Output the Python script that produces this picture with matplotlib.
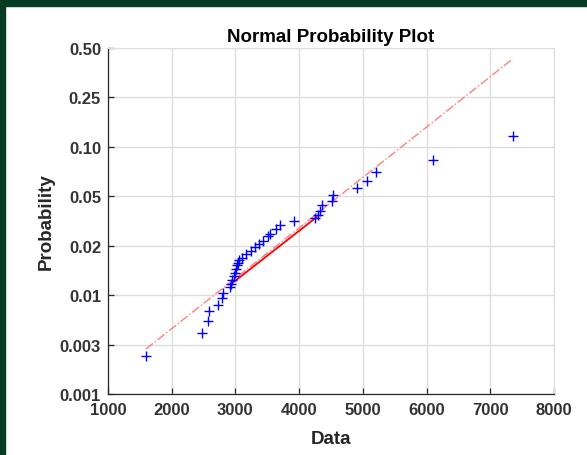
import matplotlib
matplotlib.use("Agg")
import matplotlib.pyplot as plt
from matplotlib.patches import Rectangle

plt.rcParams['font.family'] = ['Liberation Sans', 'DejaVu Sans']

# y axis: evenly spaced probability ticks (position = index)
prob_labels = ['0.001', '0.003', '0.01', '0.02', '0.05', '0.10', '0.25', '0.50']
xticks = [1000, 2000, 3000, 4000, 5000, 6000, 7000, 8000]

# data points (x value, position on probability axis in tick units)
data_x = [1596, 2470, 2575, 2585, 2722, 2785, 2800, 2915, 2925, 2950,
          2985, 3000, 3010, 3025, 3040, 3060, 3110, 3170, 3240, 3305,
          3370, 3425, 3505, 3535, 3640, 3705, 3925, 4249, 4290, 4327,
          4363, 4520, 4526, 4913, 5060, 5206, 6106, 7352]
data_u = [0.76, 1.23, 1.47, 1.67, 1.80, 1.94, 2.04, 2.16, 2.23, 2.30,
          2.38, 2.44, 2.53, 2.60, 2.66, 2.71, 2.76, 2.83, 2.90, 2.97,
          3.04, 3.10, 3.19, 3.24, 3.33, 3.42, 3.50, 3.56, 3.63, 3.70,
          3.82, 3.91, 4.02, 4.16, 4.30, 4.50, 4.74, 5.21]

# reference line: full extent (dash-dot) and fitted middle part (solid)
line_x = [1596, 7352]
line_u = [0.91, 6.78]
solid_x = [2967, 4276]
solid_u = [2.26, 3.58]

fig = plt.figure(figsize=(5.87, 4.56), dpi=100)
fig.patch.set_facecolor('white')
# dark green frame on top and left
fig.patches.append(Rectangle((0, 1 - 7 / 456), 1, 7 / 456, transform=fig.transFigure,
                             color='#083b23', zorder=0))
fig.patches.append(Rectangle((0, 0), 5 / 587, 1, transform=fig.transFigure,
                             color='#083b23', zorder=0))

ax = fig.add_axes([108 / 587, 61 / 456, 446 / 587, 346 / 456])

ax.plot(line_x, line_u, linestyle='-.', color='#ff8080', lw=1.0, zorder=2)
ax.plot(solid_x, solid_u, linestyle='-', color='#ff0000', lw=1.3, zorder=3)
ax.plot(data_x, data_u, '+', color='#0000ff', ms=7, mew=1.0, zorder=4)

ax.set_xlim(1000, 8000)
ax.set_ylim(0, 7)
ax.set_xticks(xticks)
ax.set_xticklabels([str(t) for t in xticks])
ax.set_yticks(range(len(prob_labels)))
ax.set_yticklabels(prob_labels)

ax.grid(True, color='#dedede', lw=1.0)
ax.set_axisbelow(True)
for s in ['top', 'right']:
    ax.spines[s].set_color('#dedede')
for s in ['left', 'bottom']:
    ax.spines[s].set_color('#262626')
    ax.spines[s].set_linewidth(0.9)
ax.tick_params(direction='in', length=4, width=0.9, color='#262626',
               labelcolor='#333333', labelsize=12)
ax.tick_params(axis='x', pad=6)
ax.tick_params(axis='y', pad=5)
for lab in ax.get_xticklabels() + ax.get_yticklabels():
    lab.set_fontweight('bold')

ax.set_title('Normal Probability Plot', fontsize=13.5, fontweight='bold', pad=5)
ax.set_xlabel('Data', fontsize=13.5, fontweight='bold', color='#262626', labelpad=9)
ax.set_ylabel('Probability', fontsize=13.5, fontweight='bold', color='#262626', labelpad=4)

fig.savefig('out.png', dpi=100)
